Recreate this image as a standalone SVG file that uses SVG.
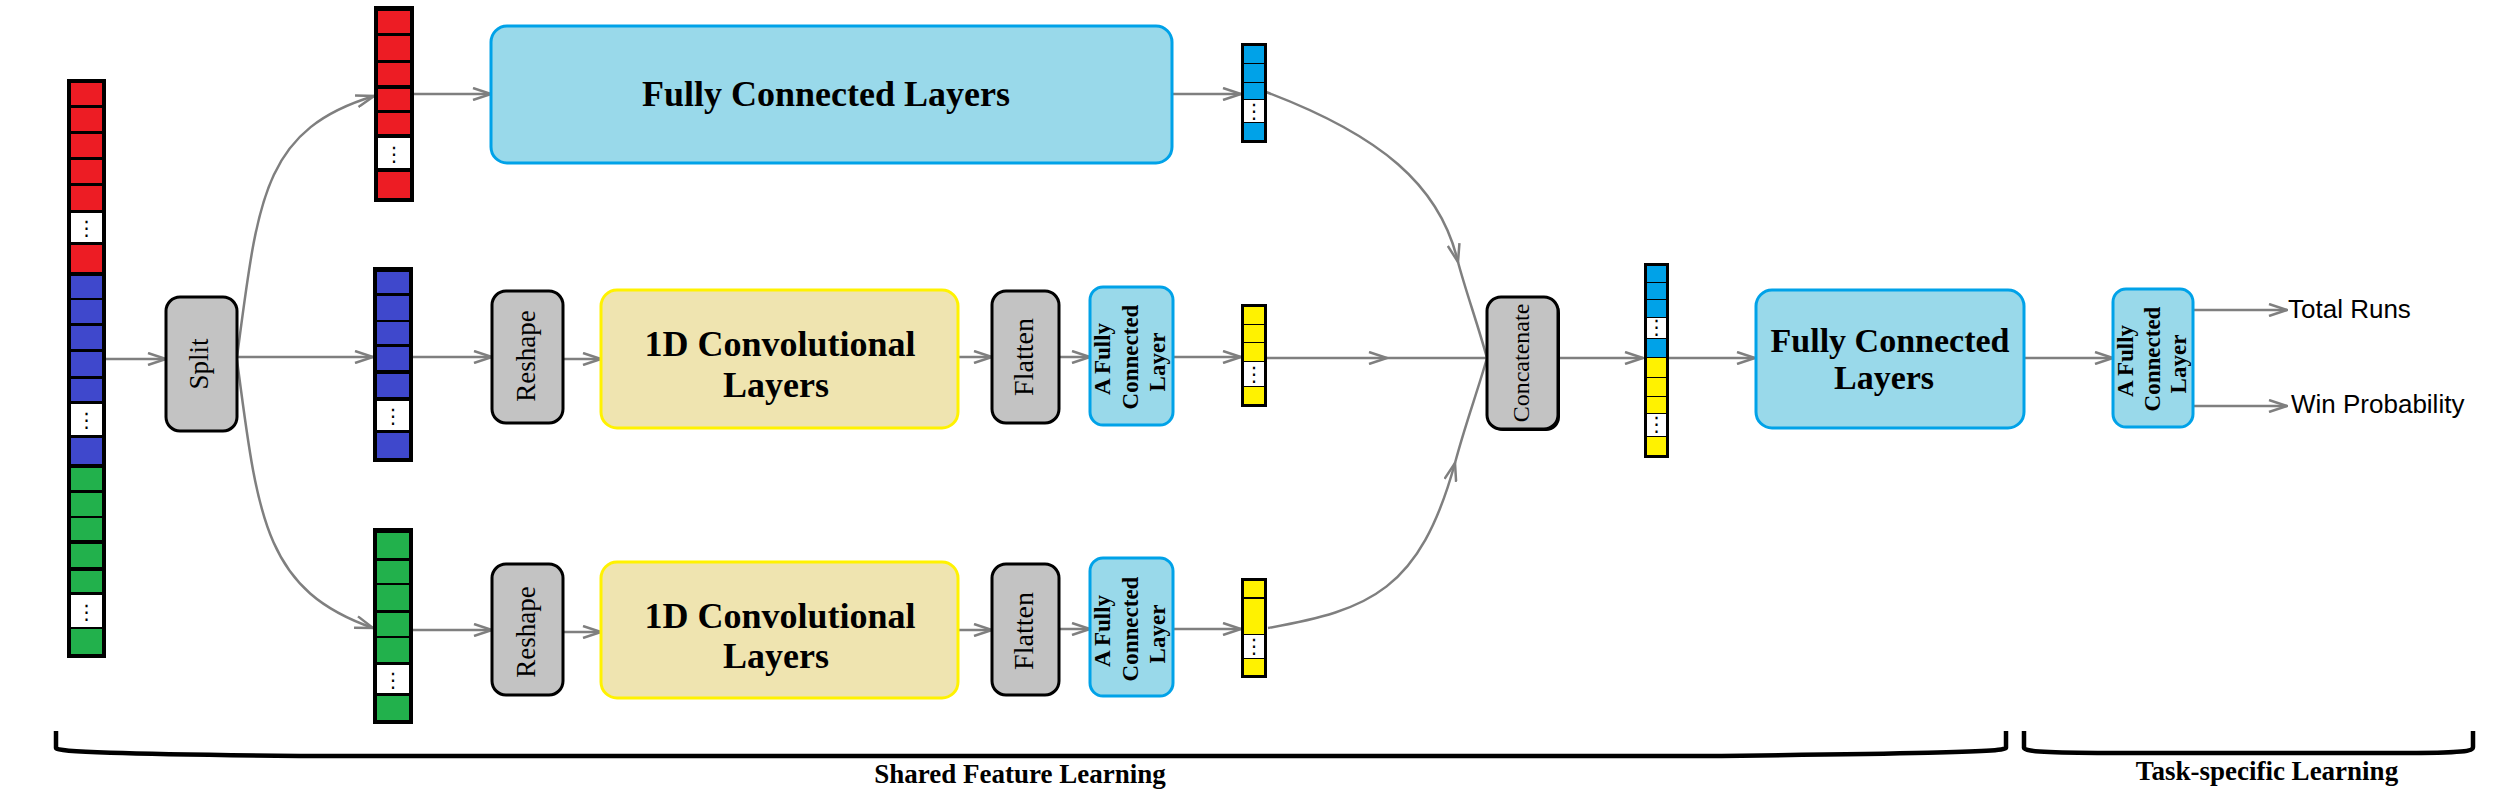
<svg xmlns="http://www.w3.org/2000/svg" width="2496" height="794" viewBox="0 0 2496 794">
<defs>
<style>
.conn{fill:none;stroke:#7f7f7f;stroke-width:2.5}
.arr{marker-end:url(#ah)}
.mid{marker-mid:url(#ah)}
.r{fill:#ed1c24}.b{fill:#3f48cc}.g{fill:#22b14c}.y{fill:#fff200}.lb{fill:#00a2e8}.w{fill:#ffffff}
.vb{fill:#000}
.grey{fill:#c3c3c3;stroke:#000;stroke-width:3}
.fc{fill:#99d9ea;stroke:#00a2e8;stroke-width:3}
.conv{fill:#efe4b0;stroke:#fff200;stroke-width:3}
.tb{font-family:"Liberation Serif","Times New Roman",serif;font-weight:bold;fill:#000}
.tr{font-family:"Liberation Serif","Times New Roman",serif;fill:#000}
.ts{font-family:"Liberation Sans",Arial,sans-serif;fill:#000;font-size:26px}
.dots{font-family:"DejaVu Sans",sans-serif;font-size:20px;fill:#000;text-anchor:middle}
.brace{fill:none;stroke:#000;stroke-width:4.5}
</style>
<marker id="ah" viewBox="0 0 20 14" refX="19" refY="7" markerWidth="20" markerHeight="14" markerUnits="userSpaceOnUse" orient="auto">
<path d="M1,1 L19,7 L1,13" fill="none" stroke="#7f7f7f" stroke-width="2.5"/>
</marker>
</defs>
<rect width="2496" height="794" fill="#fff"/>

<g id="connectors">
<path class="conn arr" d="M106 359 L166 359"/>
<path class="conn arr" d="M237 357 C258 200 262 130 374 96"/>
<path class="conn arr" d="M237 357 L373 357"/>
<path class="conn arr" d="M237 360 C258 520 265 590 373 628"/>
<path class="conn arr" d="M414 94 L491 94"/>
<path class="conn arr" d="M1172 94 L1241 94"/>
<path class="conn arr" d="M413 357 L492 357"/>
<path class="conn arr" d="M563 359 L601 359"/>
<path class="conn arr" d="M958 357 L992 357"/>
<path class="conn arr" d="M1059 357 L1090 357"/>
<path class="conn arr" d="M1173 357 L1241 357"/>
<path class="conn arr" d="M413 630 L492 630"/>
<path class="conn arr" d="M563 632 L601 632"/>
<path class="conn arr" d="M958 630 L992 630"/>
<path class="conn arr" d="M1059 629 L1090 629"/>
<path class="conn arr" d="M1173 629 L1241 629"/>
<path class="conn mid" d="M1266 92 C1380 135 1440 185 1458 262 C1466 292 1478 325 1487 358"/>
<path class="conn mid" d="M1267 358 L1387 358 L1487 358"/>
<path class="conn mid" d="M1268 628 C1370 610 1420 590 1455 463 C1465 425 1478 390 1487 358"/>
<path class="conn arr" d="M1560 358 L1643 358"/>
<path class="conn arr" d="M1669 358 L1755 358"/>
<path class="conn arr" d="M2024 358 L2113 358"/>
<path class="conn arr" d="M2193 310 L2287 310"/>
<path class="conn arr" d="M2193 406 L2287 406"/>
</g>

<g id="input-vector">
<rect class="vb" x="67" y="79" width="39" height="579"/>
<rect class="r" x="71" y="83" width="31" height="22"/>
<rect class="r" x="71" y="108" width="31" height="23"/>
<rect class="r" x="71" y="134" width="31" height="23"/>
<rect class="r" x="71" y="160" width="31" height="23"/>
<rect class="r" x="71" y="186" width="31" height="24"/>
<rect class="w" x="71" y="213" width="31" height="29"/>
<text class="dots" x="86.5" y="235">⋮</text>
<rect class="r" x="71" y="245" width="31" height="27"/>
<rect class="b" x="71" y="276" width="31" height="22"/>
<rect class="b" x="71" y="300" width="31" height="23"/>
<rect class="b" x="71" y="326" width="31" height="23"/>
<rect class="b" x="71" y="352" width="31" height="24"/>
<rect class="b" x="71" y="379" width="31" height="22"/>
<rect class="w" x="71" y="404" width="31" height="31"/>
<text class="dots" x="86.5" y="427">⋮</text>
<rect class="b" x="71" y="438" width="31" height="26"/>
<rect class="g" x="71" y="468" width="31" height="22"/>
<rect class="g" x="71" y="493" width="31" height="23"/>
<rect class="g" x="71" y="518" width="31" height="22"/>
<rect class="g" x="71" y="544" width="31" height="23"/>
<rect class="g" x="71" y="571" width="31" height="21"/>
<rect class="w" x="71" y="595" width="31" height="32"/>
<text class="dots" x="86.5" y="619">⋮</text>
<rect class="g" x="71" y="629" width="31" height="25"/>
</g>

<g id="split">
<rect class="grey" x="166" y="297" width="71" height="134" rx="14"/>
<text class="tr" font-size="27" text-anchor="middle" transform="translate(208,364) rotate(-90)">Split</text>
</g>

<g id="red-vector">
<rect class="vb" x="374" y="6" width="40" height="196"/>
<rect class="r" x="378" y="11" width="32" height="22"/>
<rect class="r" x="378" y="36" width="32" height="24"/>
<rect class="r" x="378" y="63" width="32" height="22"/>
<rect class="r" x="378" y="89" width="32" height="21"/>
<rect class="r" x="378" y="113" width="32" height="21"/>
<rect class="w" x="378" y="138" width="32" height="30"/>
<text class="dots" x="394" y="161">⋮</text>
<rect class="r" x="378" y="172" width="32" height="26"/>
</g>

<g id="blue-vector">
<rect class="vb" x="373" y="267" width="40" height="195"/>
<rect class="b" x="377" y="272" width="32" height="21"/>
<rect class="b" x="377" y="296" width="32" height="24"/>
<rect class="b" x="377" y="322" width="32" height="22"/>
<rect class="b" x="377" y="347" width="32" height="23"/>
<rect class="b" x="377" y="374" width="32" height="23"/>
<rect class="w" x="377" y="401" width="32" height="29"/>
<text class="dots" x="393" y="423">⋮</text>
<rect class="b" x="377" y="433" width="32" height="25"/>
</g>

<g id="green-vector">
<rect class="vb" x="373" y="528" width="40" height="196"/>
<rect class="g" x="377" y="533" width="32" height="25"/>
<rect class="g" x="377" y="561" width="32" height="22"/>
<rect class="g" x="377" y="585" width="32" height="25"/>
<rect class="g" x="377" y="613" width="32" height="23"/>
<rect class="g" x="377" y="638" width="32" height="24"/>
<rect class="w" x="377" y="665" width="32" height="28"/>
<text class="dots" x="393" y="687">⋮</text>
<rect class="g" x="377" y="696" width="32" height="24"/>
</g>

<g id="fc-top">
<rect class="fc" x="491" y="26" width="681" height="137" rx="16"/>
<text class="tb" font-size="36" text-anchor="middle" x="826" y="106">Fully Connected Layers</text>
</g>

<g id="reshape-mid">
<rect class="grey" x="492" y="291" width="71" height="132" rx="14"/>
<text class="tr" font-size="27" text-anchor="middle" transform="translate(535,356) rotate(-90)">Reshape</text>
</g>

<g id="conv-mid">
<rect class="conv" x="601" y="290" width="357" height="138" rx="16"/>
<text class="tb" font-size="36" text-anchor="middle" x="780" y="356">1D Convolutional</text>
<text class="tb" font-size="36" text-anchor="middle" x="776" y="397">Layers</text>
</g>

<g id="flatten-mid">
<rect class="grey" x="992" y="291" width="67" height="132" rx="14"/>
<text class="tr" font-size="28" text-anchor="middle" transform="translate(1033,357) rotate(-90)">Flatten</text>
</g>

<g id="fc1-mid">
<rect class="fc" x="1090" y="287" width="83" height="138" rx="13"/>
<text class="tb" font-size="23" text-anchor="middle" transform="translate(1110,359) rotate(-90)">A Fully</text>
<text class="tb" font-size="23" text-anchor="middle" transform="translate(1138,357) rotate(-90)">Connected</text>
<text class="tb" font-size="23" text-anchor="middle" transform="translate(1165,362) rotate(-90)">Layer</text>
</g>

<g id="blue-out-vector">
<rect class="vb" x="1241" y="43" width="26" height="100"/>
<rect class="lb" x="1244" y="46" width="20" height="17"/>
<rect class="lb" x="1244" y="64" width="20" height="18"/>
<rect class="lb" x="1244" y="83" width="20" height="16"/>
<rect class="w" x="1244" y="100" width="20" height="22"/>
<text class="dots" x="1254" y="118">⋮</text>
<rect class="lb" x="1244" y="123" width="20" height="17"/>
</g>

<g id="yellow-mid-vector">
<rect class="vb" x="1241" y="304" width="26" height="103"/>
<rect class="y" x="1244" y="307" width="20" height="17"/>
<rect class="y" x="1244" y="325" width="20" height="17"/>
<rect class="y" x="1244" y="343" width="20" height="18"/>
<rect class="w" x="1244" y="362" width="20" height="24"/>
<text class="dots" x="1254" y="381">⋮</text>
<rect class="y" x="1244" y="387" width="20" height="17"/>
</g>

<g id="reshape-bot">
<rect class="grey" x="492" y="564" width="71" height="131" rx="14"/>
<text class="tr" font-size="27" text-anchor="middle" transform="translate(535,632) rotate(-90)">Reshape</text>
</g>

<g id="conv-bot">
<rect class="conv" x="601" y="562" width="357" height="136" rx="16"/>
<text class="tb" font-size="36" text-anchor="middle" x="780" y="628">1D Convolutional</text>
<text class="tb" font-size="36" text-anchor="middle" x="776" y="668">Layers</text>
</g>

<g id="flatten-bot">
<rect class="grey" x="992" y="564" width="67" height="131" rx="14"/>
<text class="tr" font-size="28" text-anchor="middle" transform="translate(1033,631) rotate(-90)">Flatten</text>
</g>

<g id="fc1-bot">
<rect class="fc" x="1090" y="558" width="83" height="138" rx="13"/>
<text class="tb" font-size="23" text-anchor="middle" transform="translate(1110,631) rotate(-90)">A Fully</text>
<text class="tb" font-size="23" text-anchor="middle" transform="translate(1138,629) rotate(-90)">Connected</text>
<text class="tb" font-size="23" text-anchor="middle" transform="translate(1165,634) rotate(-90)">Layer</text>
</g>

<g id="yellow-bot-vector">
<rect class="vb" x="1241" y="578" width="26" height="100"/>
<rect class="y" x="1244" y="581" width="20" height="16"/>
<rect class="y" x="1244" y="599" width="20" height="35"/>
<rect class="w" x="1244" y="635" width="20" height="23"/>
<text class="dots" x="1254" y="653">⋮</text>
<rect class="y" x="1244" y="659" width="20" height="16"/>
</g>

<g id="concatenate">
<rect x="1489" y="299" width="71" height="132" rx="14" fill="#000"/>
<rect class="grey" x="1487" y="297" width="71" height="132" rx="14"/>
<text class="tr" font-size="24" text-anchor="middle" transform="translate(1529,363) rotate(-90)">Concatenate</text>
</g>

<g id="concat-vector">
<rect class="vb" x="1644" y="263" width="25" height="195"/>
<rect class="lb" x="1647" y="266" width="19" height="16"/>
<rect class="lb" x="1647" y="283" width="19" height="16"/>
<rect class="lb" x="1647" y="300" width="19" height="17"/>
<rect class="w" x="1647" y="318" width="19" height="20"/>
<text class="dots" x="1656.5" y="334">⋮</text>
<rect class="lb" x="1647" y="339" width="19" height="18"/>
<rect class="y" x="1647" y="358" width="19" height="19"/>
<rect class="y" x="1647" y="378" width="19" height="18"/>
<rect class="y" x="1647" y="397" width="19" height="16"/>
<rect class="w" x="1647" y="414" width="19" height="22"/>
<text class="dots" x="1656.5" y="431">⋮</text>
<rect class="y" x="1647" y="437" width="19" height="18"/>
</g>

<g id="fc-right">
<rect class="fc" x="1756" y="290" width="268" height="138" rx="16"/>
<text class="tb" font-size="34" text-anchor="middle" x="1890" y="352">Fully Connected</text>
<text class="tb" font-size="34" text-anchor="middle" x="1884" y="389">Layers</text>
</g>

<g id="fc-final">
<rect class="fc" x="2113" y="289" width="80" height="138" rx="13"/>
<text class="tb" font-size="23" text-anchor="middle" transform="translate(2133,361) rotate(-90)">A Fully</text>
<text class="tb" font-size="23" text-anchor="middle" transform="translate(2160,359) rotate(-90)">Connected</text>
<text class="tb" font-size="23" text-anchor="middle" transform="translate(2186,364) rotate(-90)">Layer</text>
</g>

<g id="outputs">
<text class="ts" x="2288" y="318">Total Runs</text>
<text class="ts" x="2291" y="413">Win Probability</text>
</g>

<g id="braces">
<path class="brace" d="M56 731 L56 748 C56 752 120 754 300 756 L1700 756 C1900 754 2006 752 2006 748 L2006 731"/>
<path class="brace" d="M2024 731 L2024 748 C2024 752 2060 753 2120 753 L2400 753 C2465 753 2473 751 2473 747 L2473 731"/>
<text class="tb" font-size="27" text-anchor="middle" x="1020" y="783">Shared Feature Learning</text>
<text class="tb" font-size="27" text-anchor="middle" x="2267" y="780">Task-specific Learning</text>
</g>
</svg>
